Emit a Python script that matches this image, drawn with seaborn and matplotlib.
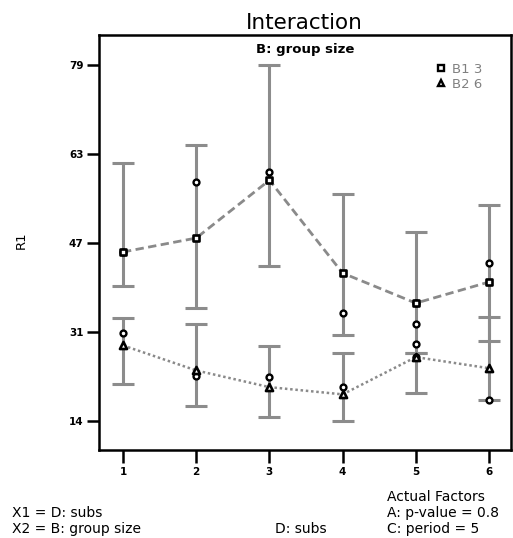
import numpy as np
import pandas as pd
import matplotlib
matplotlib.use("Agg")
import matplotlib.pyplot as plt
from matplotlib.lines import Line2D
import seaborn as sns

# ---- data ----
x_levels = [1, 2, 3, 4, 5, 6]
x_labels = ["1", "2", "3", "4", "5", "6"]
b1_mean = [45.4, 47.9, 58.3, 41.6, 36.2, 40.0]
b1_low = [39.3, 35.3, 42.8, 30.4, 27.2, 29.4]
b1_high = [61.4, 64.6, 79.0, 55.8, 49.0, 53.8]
b2_mean = [28.6, 24.1, 21.1, 19.8, 26.5, 24.5]
b2_low = [21.6, 17.7, 15.7, 15.0, 20.0, 18.7]
b2_high = [33.5, 32.4, 28.5, 27.2, 27.2, 33.7]
pts_x = [1, 2, 3, 4, 5, 6, 1, 2, 3, 4, 5, 5, 6, 5]
pts_y = [45.4, 58.0, 59.8, 34.4, 32.4, 43.4, 30.8, 23.1, 22.9, 21.1, 28.8, 36.2, 18.7, 26.5]
y_ticks = [79, 63, 47, 31, 15]
y_tick_labels = ["79", "63", "47", "31", "14"]
legend_labels = ["B1 3", "B2 6"]

sns.set_style("white")
plt.rcParams['font.family'] = ['DejaVu Sans']
plt.rcParams['text.color'] = 'black'

fig = plt.figure(figsize=(5.13, 5.38), dpi=100)
ax = fig.add_axes([99/513, 88/538, 412/513, 415/538])

grey = "#8c8c8c"
for m, lo, hi in [(b1_mean, b1_low, b1_high), (b2_mean, b2_low, b2_high)]:
    lo = np.array(lo); hi = np.array(hi)
    mid = (lo + hi) / 2
    ax.errorbar(x_levels, mid, yerr=[mid - lo, hi - mid], fmt='none',
                ecolor=grey, elinewidth=2.2, capsize=8, capthick=2.2, zorder=1)

sns.lineplot(x=x_levels, y=b1_mean, ax=ax, color="#8a8a8a", lw=2.0,
             linestyle=(0, (3, 1.6)), zorder=2)
sns.lineplot(x=x_levels, y=b2_mean, ax=ax, color="#8a8a8a", lw=1.8,
             linestyle=(0, (1, 1.1)), zorder=2)

sns.scatterplot(x=pts_x, y=pts_y, ax=ax, marker='o', s=18, facecolor='white',
                edgecolor='black', linewidth=1.7, zorder=3)
sns.scatterplot(x=x_levels, y=b1_mean, ax=ax, marker='s', s=22, facecolor='white',
                edgecolor='black', linewidth=1.9, zorder=4)
sns.scatterplot(x=x_levels, y=b2_mean, ax=ax, marker='^', s=26, facecolor='white',
                edgecolor='black', linewidth=1.9, zorder=4)

ax.set_xlim(0.672, 6.30)
ax.set_ylim(9.8, 84.4)
ax.set_xticks(x_levels)
ax.set_xticklabels(x_labels, fontsize=7.5, fontweight='bold', color='black')
ax.set_yticks(y_ticks)
ax.set_yticklabels(y_tick_labels, fontsize=7.5, fontweight='bold', color='black')
ax.tick_params(axis='both', which='major', direction='out', length=9, width=1.8,
               color='black', bottom=True, left=True, top=False, right=False)
ax.tick_params(axis='y', pad=2)
ax.tick_params(axis='x', pad=3)
ax.set_xlabel("")
ax.set_ylabel("")
for sp in ax.spines.values():
    sp.set_visible(True)
    sp.set_color('black')
    sp.set_linewidth(1.8)

handles = [Line2D([], [], marker='s', ls='none', markersize=4, markerfacecolor='white',
                  markeredgecolor='black', markeredgewidth=1.7),
           Line2D([], [], marker='^', ls='none', markersize=4.5, markerfacecolor='white',
                  markeredgecolor='black', markeredgewidth=1.7)]
fig.legend(handles, legend_labels, loc='upper left', bbox_to_anchor=(437/513, 1 - 63/538),
           frameon=False, fontsize=9.5, labelcolor='#808080', handlelength=0.6,
           handletextpad=0.5, labelspacing=0.15, borderpad=0, borderaxespad=0)

fig.text(304/513, 1 - 29/538, "Interaction", ha='center', va='baseline', fontsize=15.5)
fig.text(305/513, 1 - 53/538, "B: group size", ha='center', va='baseline', fontsize=9.5,
         fontweight='bold')
fig.text(21/513, 1 - 240/538, "R1", ha='center', va='center', rotation=90, fontsize=9.5)
fig.text(12/513, 1 - 517/538, "X1 = D: subs", ha='left', va='baseline', fontsize=10)
fig.text(12/513, 1 - 533/538, "X2 = B: group size", ha='left', va='baseline', fontsize=10)
fig.text(275/513, 1 - 533/538, "D: subs", ha='left', va='baseline', fontsize=10)
fig.text(387/513, 1 - 501/538, "Actual Factors", ha='left', va='baseline', fontsize=10)
fig.text(387/513, 1 - 517/538, "A: p-value = 0.8", ha='left', va='baseline', fontsize=10)
fig.text(387/513, 1 - 533/538, "C: period = 5", ha='left', va='baseline', fontsize=10)

fig.savefig("out.png", dpi=100)
